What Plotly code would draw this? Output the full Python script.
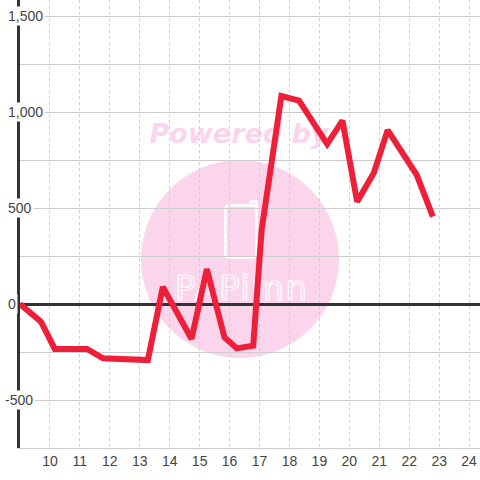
import base64
import plotly.graph_objects as go

# data
hours = [9.0, 9.7, 10.16, 11.24, 11.77, 12.54, 13.27, 13.77, 14.73, 15.24, 15.83,
         16.24, 16.79, 17.07, 17.73, 18.32, 19.26, 19.77, 20.26, 20.82, 21.28,
         22.25, 22.79]
values = [0, -92, -234, -234, -283, -289, -292, 89, -182, 182, -174,
          -231, -217, 385, 1083, 1059, 833, 955, 533, 684, 906,
          672, 455]
x_ticks = list(range(10, 25))
y_ticks = [-500, 0, 500, 1000, 1500]
y_tick_labels = ["-500", "0", "500", "1,000", "1,500"]

W, H = 480, 480
ML, MR, MT, MB = 20, 0, 0, 32
PW, PH = W - ML - MR, H - MT - MB

# watermark as an svg image placed behind the grid
svg = f'''<svg xmlns="http://www.w3.org/2000/svg" width="{PW}" height="{PH}" viewBox="0 0 {PW} {PH}">
<circle cx="220" cy="259" r="99" fill="#fbd5eb"/>
<text x="219" y="143" text-anchor="middle" font-family="DejaVu Sans" font-weight="bold" font-style="italic" font-size="27" fill="#fbd5eb">Powered by</text>
<rect x="205.5" y="205.5" width="31" height="52" rx="3" ry="3" fill="none" stroke="#ffffff" stroke-width="2.5"/>
<path d="M231 205.5 L231 201.5 L236.5 201.5 L236.5 210" fill="none" stroke="#ffffff" stroke-width="2.5"/>
<text x="155" y="300" textLength="132" lengthAdjust="spacing" font-family="DejaVu Sans" font-size="34" fill="none" stroke="#ffffff" stroke-width="1.2">PAPimn</text>
</svg>'''
src = "data:image/svg+xml;base64," + base64.b64encode(svg.encode()).decode()

x_min = 9.0
x_max = 9.0 + PW / 29.94
y_min = -750
y_max = -750 + PH / 0.192

fig = go.Figure()
fig.add_trace(go.Scatter(x=hours, y=values, mode="lines",
                         line=dict(color="#ee1f39", width=6),
                         hoverinfo="skip", showlegend=False))

fig.add_layout_image(dict(source=src, xref="paper", yref="paper", x=0, y=1,
                          sizex=1, sizey=1, sizing="stretch", layer="below",
                          xanchor="left", yanchor="top"))

label_x = {"-500": (3 - ML) / PW}
for v, t in zip(y_ticks, y_tick_labels):
    fig.add_annotation(x=label_x.get(t, (6 - ML) / PW), xref="paper", y=v, yref="y",
                       text=t, showarrow=False, xanchor="left", yanchor="middle",
                       bgcolor="#ffffff", borderpad=1,
                       font=dict(family="Liberation Sans, Arial", size=14, color="#444"))

fig.update_layout(
    width=W, height=H,
    margin=dict(l=ML, r=MR, t=MT, b=MB, pad=0),
    paper_bgcolor="#ffffff", plot_bgcolor="#ffffff",
    font=dict(family="Liberation Sans, Arial", size=14, color="#444"),
    xaxis=dict(range=[x_min, x_max], tickvals=x_ticks, showgrid=True,
               gridcolor="#cfcfcf", gridwidth=1, griddash="dot",
               showline=True, linecolor="#cccccc", linewidth=1,
               zeroline=False, ticks="", tickfont=dict(size=14, color="#444")),
    yaxis=dict(range=[y_min, y_max], tickvals=[-750, -500, -250, 0, 250, 500, 750, 1000, 1250, 1500],
               showticklabels=False, showgrid=True, gridcolor="#cccccc", gridwidth=1,
               zeroline=True, zerolinecolor="#333333", zerolinewidth=3,
               showline=True, linecolor="#333333", linewidth=3, ticks=""),
)

fig.write_html("out.html", config={"displayModeBar": False},
               post_script="document.body.style.margin='0px';document.body.style.padding='0px';")
